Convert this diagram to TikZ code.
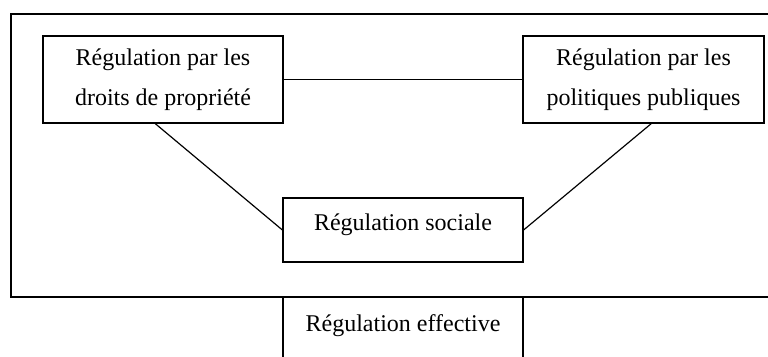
\documentclass[tikz,border=0pt]{standalone}
\usepackage{fontspec}
\setmainfont{Liberation Serif}
\usepackage{tikz}

\begin{document}
\begin{tikzpicture}[
    x=1pt, y=-1pt,
    line width=1.2pt,
    box/.style={draw, line width=1.2pt, inner sep=0pt, text centered, align=center,
        font=\fontsize{24}{40}\selectfont},
    double/.style={box, minimum width=240pt, minimum height=87pt},
    single/.style={box, minimum width=240pt, minimum height=64pt, text depth=15pt},
    openbox/.style={box, anchor=north, minimum width=240pt, text height=34pt, text depth=60pt}
]

\useasboundingbox (0,0) rectangle (768,356);
\clip (0,0) rectangle (768,356);

\draw (11,14) rectangle (790,297);

\node[double] (droits) at (163,79.5) {Régulation par les\\droits de propriété};
\node[double, minimum width=241pt] (politiques) at (643.5,79.5) {Régulation par les\\politiques publiques};
\node[single] (sociale) at (403,230) {Régulation sociale};
\node[openbox] (effective) at (403,297) {Régulation effective};

\draw (droits) -- (politiques);
\draw (droits.-100) -- (sociale.west);
\draw (politiques.-80) -- (sociale.east);

\end{tikzpicture}
\end{document}
